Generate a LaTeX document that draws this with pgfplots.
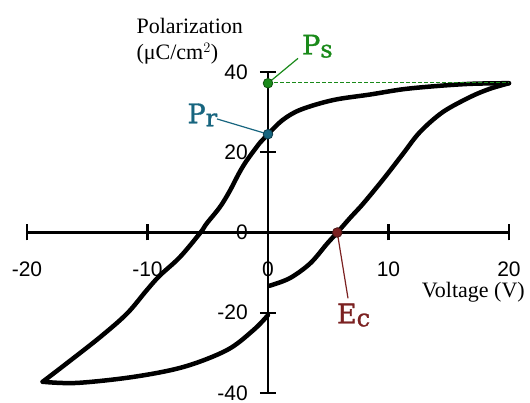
\documentclass[border=0pt]{standalone}
\usepackage{fontspec}
\usepackage{pgfplots}
\pgfplotsset{compat=1.18}
\setmainfont{Liberation Serif}
\newfontfamily\ticksfont{Liberation Sans}
\newfontfamily\notefont[FakeBold=1.2]{DejaVu Serif}

\definecolor{psgreen}{HTML}{1A8A1A}
\definecolor{prteal}{HTML}{17657F}
\definecolor{ecred}{HTML}{7B2121}

% hysteresis loop, upper (descending) branch
\pgfplotstableread{
x y
20 37.2
19.5 37.2
16.8 37.05
14.0 36.5
11.2 35.7
8.5 34.4
5.4 33.0
2.7 30.6
1.2 28.0
0 24.5
-0.66 22.4
-1.77 17.9
-2.4 14.8
-3.2 10.2
-4.0 6.3
-5.1 2.2
-5.6 0
-7.3 -6.1
-9.0 -10.8
-10.07 -14.4
-11.7 -20.2
-13.9 -26.0
-16.7 -32.6
-18.7 -37.2
}\upperbranch

% lower (ascending) branch, left of the P axis
\pgfplotstableread{
x y
-18.7 -37.2
-15.9 -37.5
-11.2 -36.0
-7.0 -33.5
-3.4 -29.3
-1.2 -24.3
0 -20.6
}\lowerleft

% lower (ascending) branch, right of the P axis
\pgfplotstableread{
x y
0.1 -13.3
1.8 -11.4
3.5 -7.7
4.9 -2.8
5.75 0
6.8 3.6
7.9 7.2
9.6 13.4
11.2 19.6
12.6 25.0
14.5 30.0
16.8 33.8
18.4 35.8
20 37.2
}\lowerright

\begin{document}
\begin{tikzpicture}[x=1pt,y=1pt]
\useasboundingbox (0,0) rectangle (530,403);
\begin{axis}[
  at={(27pt,10pt)}, anchor=south west,
  scale only axis, width=482pt, height=321pt,
  xmin=-20, xmax=20, ymin=-40, ymax=40,
  axis lines=middle,
  axis line style={-, line width=2.6pt, line cap=butt},
  xtick={-20,-10,0,10,20},
  ytick={-40,-20,0,20,40},
  hide obscured x ticks=false, hide obscured y ticks=false,
  tick align=center, major tick length=16pt,
  tick style={line width=2.4pt, black},
  /pgf/number format/assume math mode=true,
  ticklabel style={font=\ticksfont\fontsize{21}{21}\selectfont, inner sep=0pt},
  xticklabel style={anchor=center, yshift=-29pt},
  yticklabel style={anchor=east, xshift=-12pt},
  xlabel={Voltage (V)},
  ylabel={Polarization\\(μC/cm$^{2}$)},
  label style={font=\fontsize{22}{26}\selectfont},
  xlabel style={anchor=west, at={(rel axis cs:0.812,0.315)}},
  ylabel style={anchor=west, align=left, at={(rel axis cs:0.22,1.095)}, rotate=0},
  clip=false,
]
\addplot[line width=4.5pt, black, smooth, tension=0.55, line cap=round] table {\upperbranch};
\addplot[line width=4.5pt, black, smooth, tension=0.55, line cap=round] table {\lowerleft};
\addplot[line width=4.5pt, black, smooth, tension=0.55, line cap=round] table {\lowerright};

% saturation level
\addplot[psgreen, line width=1.3pt, dash pattern=on 4pt off 2pt] coordinates {(0,37.3) (20,37.3)};

% leader lines and labels
\draw[psgreen, line width=1.2pt] (axis cs:0,37.2) -- (axis cs:2.49,43.4);
\node[psgreen, font=\notefont\fontsize{27}{27}\selectfont] at (axis cs:4.1,46.4) {P\raisebox{-3pt}{\fontsize{24}{24}\selectfont s}};
\draw[prteal, line width=1.2pt] (axis cs:0,24.5) -- (axis cs:-4.23,28.3);
\node[prteal, font=\notefont\fontsize{27}{27}\selectfont] at (axis cs:-5.45,29.3) {P\raisebox{-3pt}{\fontsize{24}{24}\selectfont r}};
\draw[ecred, line width=1.2pt] (axis cs:5.75,0) -- (axis cs:6.64,-16.4);
\node[ecred, font=\notefont\fontsize{27}{27}\selectfont] at (axis cs:7.1,-20.6) {E\raisebox{-3pt}{\fontsize{24}{24}\selectfont c}};

% marked points
\addplot[only marks, mark=*, mark size=4.8pt, fill=psgreen, draw=psgreen!60!black, line width=0.8pt] coordinates {(0,37.2)};
\addplot[only marks, mark=*, mark size=4.8pt, fill=prteal, draw=prteal!60!black, line width=0.8pt] coordinates {(0,24.5)};
\addplot[only marks, mark=*, mark size=4.8pt, fill=ecred, draw=ecred!60!black, line width=0.8pt] coordinates {(5.75,0)};
\end{axis}
\end{tikzpicture}
\end{document}
